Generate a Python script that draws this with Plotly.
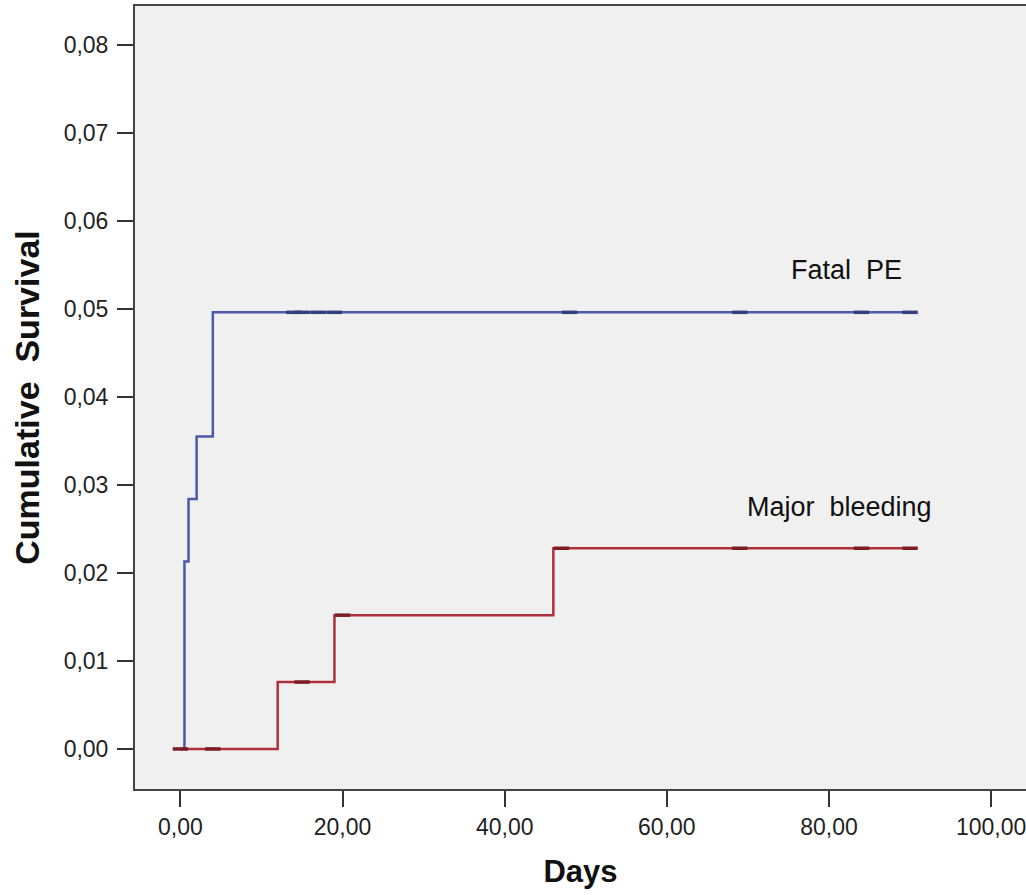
import numpy as np
import plotly.graph_objects as go

# Kaplan-Meier style cumulative incidence curves (days since start)
pe_days = [0, 0.5, 1, 2, 4, 90]
pe_cum = [0.0, 0.0213, 0.0284, 0.0355, 0.0496, 0.0496]
pe_censored = [14, 15, 17, 19, 48, 69, 84, 90]

bleed_days = [0, 12, 19, 46, 90]
bleed_cum = [0.0, 0.0076, 0.0152, 0.0228, 0.0228]
bleed_censored = [0, 4, 15, 20, 47, 69, 84, 90]

x_ticks = [0, 20, 40, 60, 80, 100]
y_ticks = [0.00, 0.01, 0.02, 0.03, 0.04, 0.05, 0.06, 0.07, 0.08]

BLUE = "#4a5aa6"
BLUE_DARK = "#33407e"
RED = "#b0303a"
RED_DARK = "#7a1e24"
FONT = "Liberation Sans, Arial, sans-serif"


def step_value(days, cum, t):
    idx = np.searchsorted(np.asarray(days), t, side="right") - 1
    return float(np.asarray(cum)[max(idx, 0)])


fig = go.Figure()

fig.add_trace(go.Scatter(
    x=bleed_days, y=bleed_cum, mode="lines", line_shape="hv",
    line=dict(color=RED, width=2.5), name="Major bleeding", showlegend=False,
))
fig.add_trace(go.Scatter(
    x=pe_days, y=pe_cum, mode="lines", line_shape="hv",
    line=dict(color=BLUE, width=2.5), name="Fatal PE", showlegend=False,
))

# censoring marks
fig.add_trace(go.Scatter(
    x=bleed_censored,
    y=[step_value(bleed_days, bleed_cum, t) for t in bleed_censored],
    mode="markers",
    marker=dict(symbol="line-ew", size=11, line=dict(color=RED_DARK, width=3.5)),
    showlegend=False, hoverinfo="skip",
))
fig.add_trace(go.Scatter(
    x=pe_censored,
    y=[step_value(pe_days, pe_cum, t) for t in pe_censored],
    mode="markers",
    marker=dict(symbol="line-ew", size=11, line=dict(color=BLUE_DARK, width=3.5)),
    showlegend=False, hoverinfo="skip",
))

fig.add_annotation(x=82.2, y=0.0544, text="Fatal\u00a0\u00a0PE", showarrow=False,
                   xanchor="center", yanchor="middle",
                   font=dict(family=FONT, size=27, color="#111111"))
fig.add_annotation(x=81.3, y=0.0275, text="Major\u00a0\u00a0bleeding", showarrow=False,
                   xanchor="center", yanchor="middle",
                   font=dict(family=FONT, size=27, color="#111111"))

fig.update_layout(
    width=1026, height=895,
    margin=dict(l=135, r=0, t=6, b=106),
    paper_bgcolor="white",
    plot_bgcolor="#f0f0f0",
    separators=", ",
    font=dict(family=FONT, color="#222222"),
    showlegend=False,
)

fig.update_xaxes(
    range=[-5.6, 104.3],
    tickvals=x_ticks, tickformat=".2f",
    ticks="outside", ticklen=16, tickwidth=2, tickcolor="#333333",
    tickfont=dict(family=FONT, size=23, color="#222222"),
    ticklabeloverflow="allow",
    showline=True, linecolor="#444444", linewidth=2, mirror=True,
    showgrid=False, zeroline=False,
    title=dict(text="<b>Days</b>", font=dict(family=FONT, size=31, color="#111111"),
               standoff=22),
)
fig.update_yaxes(
    range=[-0.00455, 0.0844],
    tickvals=y_ticks, tickformat=".2f",
    ticks="outside", ticklen=16, tickwidth=2, tickcolor="#333333",
    tickfont=dict(family=FONT, size=23, color="#222222"),
    ticklabelstandoff=4,
    showline=True, linecolor="#444444", linewidth=2, mirror=False,
    showgrid=False, zeroline=False,
    title=dict(text="<b>Cumulative\u00a0\u00a0Survival</b>",
               font=dict(family=FONT, size=34, color="#111111"), standoff=14),
)

fig.write_html("out.html")
